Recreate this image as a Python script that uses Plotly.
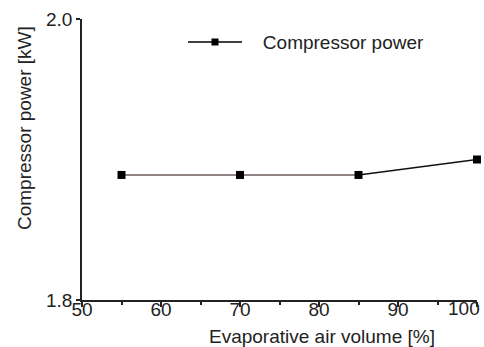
import plotly.graph_objects as go

air_volume = [55, 70, 85, 100]
compressor_power = [1.889, 1.889, 1.889, 1.900]
series_name = "Compressor power"
x_ticks = [50, 60, 70, 80, 90, 100]
x_tick_labels = ["50", "60", "70", "80", "90", "100"]
y_ticks = [1.8, 2.0]
y_tick_labels = ["1.8", "2.0"]
x_title = "Evaporative air volume [%]"
y_title = "Compressor power [kW]"

FONT = "Liberation Sans, Arial, sans-serif"
FS = 19
fig = go.Figure()
fig.add_trace(go.Scatter(x=air_volume[:3], y=compressor_power[:3], mode="lines",
                         line=dict(color="#6a5c58", width=1.5), showlegend=False, hoverinfo="skip"))
fig.add_trace(go.Scatter(x=air_volume[2:], y=compressor_power[2:], mode="lines",
                         line=dict(color="#111111", width=1.5), showlegend=False, hoverinfo="skip"))
fig.add_trace(go.Scatter(x=air_volume, y=compressor_power, mode="markers", name=series_name,
                         marker=dict(symbol="square", size=8, color="black"),
                         cliponaxis=False, showlegend=False))
fig.add_trace(go.Scatter(x=[None], y=[None], mode="lines+markers",
                         name="\u00a0\u00a0\u00a0" + series_name,
                         marker=dict(symbol="square", size=7, color="black"),
                         line=dict(color="black", width=1.5)))

# last x tick label is pulled inside the figure edge, as in the original
tick_text = x_tick_labels[:-1] + [""]

fig.update_layout(
    width=484, height=347,
    margin=dict(l=82, r=7, t=19, b=47),
    paper_bgcolor="white", plot_bgcolor="white",
    font=dict(family=FONT, size=FS, color="#222222"),
    legend=dict(x=0.2557, y=0.985, xanchor="left", yanchor="top", bgcolor="rgba(0,0,0,0)",
                font=dict(size=FS), itemwidth=54),
    xaxis=dict(range=[50, 100], tickvals=x_ticks, ticktext=tick_text,
               ticks="outside", ticklen=5, tickwidth=1.5, tickcolor="#222",
               ticklabelstandoff=-14,
               minor=dict(tickvals=[55, 65, 75, 85, 95], ticks="outside", ticklen=3,
                          tickwidth=1.5, tickcolor="#222"),
               showline=True, linecolor="#222", linewidth=1.5, showgrid=False, zeroline=False,
               automargin=False),
    yaxis=dict(range=[1.8, 2.0], tickvals=y_ticks, ticktext=y_tick_labels,
               ticks="outside", ticklen=4, tickwidth=1.5, tickcolor="#222",
               showline=True, linecolor="#222", linewidth=1.5, showgrid=False, zeroline=False,
               automargin=False),
    annotations=[
        dict(text=x_tick_labels[-1], xref="x", yref="paper", x=x_ticks[-1], y=0,
             xanchor="right", yanchor="top", xshift=5, yshift=4, showarrow=False,
             font=dict(size=FS)),
        dict(text=x_title, xref="paper", yref="paper", x=(321.5 - 82) / 395, y=(300 - 336) / 281,
             xanchor="center", yanchor="middle", showarrow=False, font=dict(size=FS)),
        dict(text=y_title, xref="paper", yref="paper", x=(25 - 82) / 395, y=(300 - 128) / 281,
             xanchor="center", yanchor="middle", textangle=-90, showarrow=False, font=dict(size=FS)),
    ],
)

fig.write_html("out.html", config={"displayModeBar": False},
               post_script="document.body.style.margin='0';")
